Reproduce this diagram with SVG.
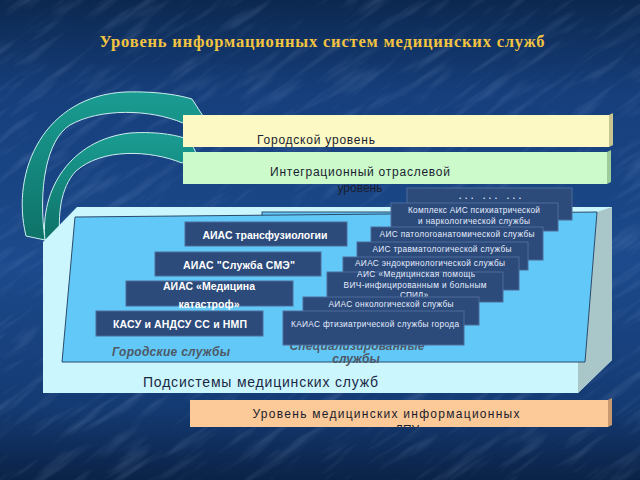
<svg xmlns="http://www.w3.org/2000/svg" width="640" height="480" viewBox="0 0 640 480">
<defs>
<linearGradient id="bg" x1="0" y1="0" x2="0" y2="1">
<stop offset="0" stop-color="#0c2850"/>
<stop offset="0.2" stop-color="#163f7c"/>
<stop offset="0.55" stop-color="#1c4a8c"/>
<stop offset="0.85" stop-color="#143a72"/>
<stop offset="1" stop-color="#0a2246"/>
</linearGradient>
<linearGradient id="teal" x1="0" y1="0" x2="0" y2="1">
<stop offset="0" stop-color="#1a9c92"/>
<stop offset="1" stop-color="#0e7268"/>
</linearGradient>
<filter id="tex" x="0" y="0" width="100%" height="100%">
<feTurbulence type="fractalNoise" baseFrequency="0.015 0.1" numOctaves="3" seed="4"/>
<feColorMatrix values="0 0 0 0 0.55  0 0 0 0 0.7  0 0 0 0 1  0 0 0 1.2 -0.6"/>
</filter>
<clipPath id="clipOr"><rect x="190" y="400" width="420" height="27"/></clipPath>
<style>
.bx{fill:#2c4a7a;stroke:#4d6d9c;stroke-width:1}
.lt{font-family:"Liberation Sans",Arial,sans-serif;font-weight:bold;font-size:10.5px;fill:#ffffff;text-anchor:middle}
.st{font-family:"Liberation Sans",Arial,sans-serif;font-size:8.3px;fill:#e6eeff;text-anchor:middle}
.lvl{font-family:"Liberation Sans",Arial,sans-serif;font-size:12px;fill:#1a1e30}
.it{font-family:"Liberation Sans",Arial,sans-serif;font-style:italic;font-weight:bold;font-size:12px;fill:#4e5866}
</style>
</defs>
<rect width="640" height="480" fill="url(#bg)"/>
<rect x="-400" y="-400" width="1440" height="1280" filter="url(#tex)" opacity="0.3" transform="rotate(-35 320 240)"/>

<text x="322" y="47" text-anchor="middle" font-family="'Liberation Serif','Times New Roman',serif" font-weight="bold" font-size="16.5" fill="#f2c440" textLength="445">Уровень информационных систем медицинских служб</text>

<g id="connectors">
<path d="M26,236 C10,170 45,96 125,92 C160,91 182,96 192,99 L203,116 L183,123 C150,109 100,108 70,125 C46,140 38,190 45,240 Z" fill="url(#teal)" stroke="#cdeeee" stroke-width="1"/>
<path d="M45,240 C40,190 70,140 130,133 C160,131 180,136 190,140 L197,155 L182,163 C150,150 102,148 76,171 C60,188 58,215 60,240 Z" fill="url(#teal)" stroke="#cdeeee" stroke-width="1"/>
</g>

<g id="city-level">
<rect x="183" y="115" width="426" height="32" fill="#fcf9c4"/>
<polygon points="609,115 613,113 613,145 609,147" fill="#c9c590"/>
<text class="lvl" x="257" y="144" textLength="118">Городской уровень</text>
</g>

<g id="integration-level">
<rect x="183" y="152" width="424" height="32" fill="#ccfacb"/>
<polygon points="607,152 611,150 611,182 607,184" fill="#9ccc9a"/>
<text class="lvl" x="270" y="176" textLength="180">Интеграционный отраслевой</text>
<text class="lvl" x="360" y="192" text-anchor="middle" fill="#0f2444">уровень</text>
</g>

<g id="subsystems">
<polygon points="43,242 77,207 612,207 612,360 578,393 43,393" fill="#ccf6fe"/>
<polygon points="597,212 612,207 612,360 578,393 578,360 585,360" fill="#a9c6c8"/>
<rect x="262" y="212" width="150" height="20" fill="#62c8f8" stroke="#2a4a6a" stroke-width="1"/>
<polygon points="75,217 597,212 585,362 62,362" fill="#62c8f8" stroke="#2a4a6a" stroke-width="1"/>
<text x="143" y="387" font-family="'Liberation Sans',Arial,sans-serif" font-size="14" fill="#1a2844" textLength="235">Подсистемы медицинских служб</text>
</g>

<g id="city-services">
<text class="it" x="112" y="356" textLength="118">Городские службы</text>
</g>

<g id="specialized-services">
<text class="it" x="357" y="350" text-anchor="middle" textLength="135">Специализированные</text>
<text class="it" x="356" y="363" text-anchor="middle" fill="#5a4a48">службы</text>
</g>

<g id="transfusion"><rect class="bx" x="185" y="222" width="162" height="24"/><text class="lt" x="265" y="239" textLength="125">АИАС трансфузиологии</text></g>
<g id="sme"><rect class="bx" x="155" y="252" width="166" height="24"/><text class="lt" x="239" y="269" textLength="112">АИАС "Служба СМЭ"</text></g>
<g id="catastrophe"><rect class="bx" x="126" y="281" width="167" height="25"/><text class="lt" x="209" y="290" textLength="92">АИАС «Медицина</text><text class="lt" x="209" y="308" textLength="61">катастроф»</text></g>
<g id="kasu"><rect class="bx" x="96" y="311" width="167" height="25"/><text class="lt" x="180" y="328" textLength="134">КАСУ и АНДСУ СС и НМП</text></g>

<g id="dots"><rect class="bx" x="407" y="188" width="165" height="32"/><text class="st" x="490" y="199" font-weight="bold" font-size="9" textLength="62">... ... ...</text></g>
<g id="psych"><rect class="bx" x="391" y="203" width="167" height="28"/><text class="st" x="474" y="213" textLength="132">Комплекс АИС психиатрической</text><text class="st" x="474" y="224" textLength="112">и наркологической службы</text></g>
<g id="patho"><rect class="bx" x="371" y="227" width="172" height="33"/><text class="st" x="457" y="237" textLength="155">АИС  патологоанатомической службы</text></g>
<g id="trauma"><rect class="bx" x="357" y="242" width="171" height="28"/><text class="st" x="442" y="252" textLength="139">АИС травматологической службы</text></g>
<g id="endo"><rect class="bx" x="343" y="257" width="176" height="33"/><text class="st" x="430" y="266" textLength="150">АИАС эндокринологической службы</text></g>
<g id="hiv"><rect class="bx" x="327" y="272" width="176" height="30"/><text class="st" x="416" y="277" textLength="118">АИС «Медицинская помощь</text><text class="st" x="415" y="288" textLength="143">ВИЧ-инфицированным и больным</text><text class="st" x="414" y="298">СПИД»</text></g>
<g id="onco"><rect class="bx" x="303" y="297" width="176" height="28"/><text class="st" x="391" y="307" textLength="125">АИАС онкологической службы</text></g>
<g id="tb"><rect class="bx" x="283" y="311" width="181" height="34"/><text class="st" x="375" y="327" textLength="168">КАИАС фтизиатрической службы города</text></g>

<g id="lpu-level">
<rect x="190" y="400" width="418" height="27" fill="#fcca98"/>
<polygon points="608,400 612,398 612,425 608,427" fill="#c99a70"/>
<g clip-path="url(#clipOr)">
<text class="lvl" x="386" y="418" text-anchor="middle" textLength="267">Уровень медицинских информационных</text>
<text class="lvl" x="386" y="434" text-anchor="middle">систем ЛПУ</text>
</g>
</g>
</svg>
